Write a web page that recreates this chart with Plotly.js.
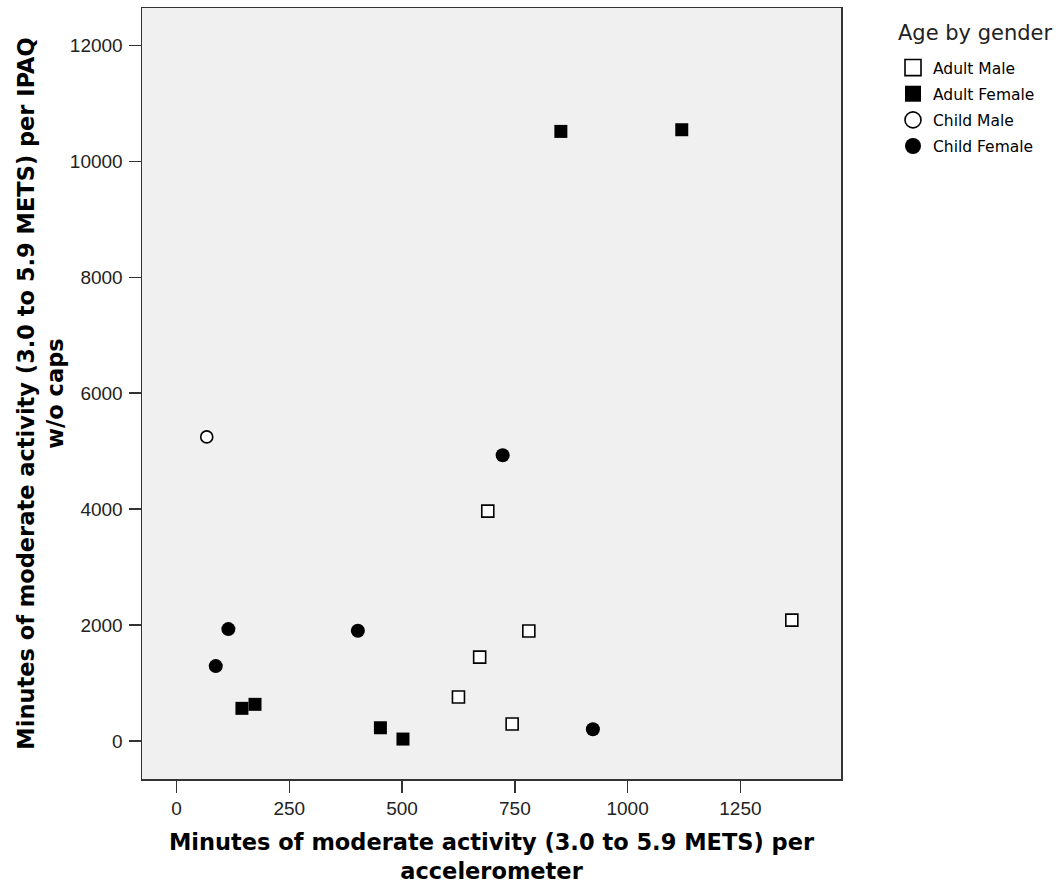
<!DOCTYPE html>
<html>
<head>
<meta charset="utf-8">
<script src="https://cdn.plot.ly/plotly-3.0.1.min.js"></script>
<style>html,body{margin:0;padding:0;background:#fff;}#chart{width:1061px;height:884px;}</style>
</head>
<body>
<div id="chart"></div>
<script>
// Data
const seriesNames = ["Adult Male", "Adult Female", "Child Male", "Child Female"];
const adultMaleX = [690, 781, 672, 625, 744, 1364];
const adultMaleY = [3966, 1897, 1448, 759, 293, 2086];
const adultFemaleX = [852, 1120, 145, 174, 452, 502];
const adultFemaleY = [10517, 10546, 564, 633, 229, 34];
const childMaleX = [67];
const childMaleY = [5247];
const childFemaleX = [723, 115, 87, 402, 923];
const childFemaleY = [4931, 1931, 1293, 1902, 202];
const xTicks = [0, 250, 500, 750, 1000, 1250];
const yTicks = [0, 2000, 4000, 6000, 8000, 10000, 12000];
const legendTitle = "Age by gender";

const FONT = "DejaVu Sans, Arial, sans-serif";
const TICKFONT = "Liberation Sans, Arial, sans-serif";

const styles = [
  {symbol: "square", color: "#ffffff", lw: 1.6, size: 12},
  {symbol: "square", color: "#000000", lw: 0, size: 13},
  {symbol: "circle", color: "#ffffff", lw: 1.6, size: 12},
  {symbol: "circle", color: "#000000", lw: 0, size: 14}
];
const xs = [adultMaleX, adultFemaleX, childMaleX, childFemaleX];
const ys = [adultMaleY, adultFemaleY, childMaleY, childFemaleY];

const data = [];
// plotted points
for (let i = 0; i < 4; i++) {
  const s = styles[i];
  data.push({
    type: "scatter", mode: "markers", name: seriesNames[i], x: xs[i], y: ys[i],
    showlegend: false, legendgroup: "g" + i,
    marker: {symbol: s.symbol, size: s.size, color: s.color, line: {color: "#000", width: s.lw}}
  });
}
// legend entries (larger symbols, as in the reference legend)
for (let i = 0; i < 4; i++) {
  const s = styles[i];
  data.push({
    type: "scatter", mode: "markers", name: seriesNames[i], x: [null], y: [null],
    showlegend: true, legendgroup: "g" + i,
    marker: {symbol: s.symbol, size: 16, color: s.color, line: {color: "#000", width: s.lw ? 1.6 : 0}}
  });
}

const layout = {
  width: 1061, height: 884,
  paper_bgcolor: "#ffffff", plot_bgcolor: "#f0f0f0",
  margin: {l: 142, r: 220, t: 8, b: 105},
  font: {family: FONT, color: "#000"},
  showlegend: true,
  xaxis: {
    range: [-76.5, 1473], tickvals: xTicks, ticktext: xTicks.map(String),
    showgrid: false, zeroline: false,
    showline: true, linecolor: "#333", linewidth: 1.5, mirror: true,
    ticks: "outside", ticklen: 12, tickwidth: 1.5, tickcolor: "#333",
    tickfont: {family: TICKFONT, size: 19, color: "#222"},
    title: {text: "Minutes of moderate activity (3.0 to 5.9 METS) per<br>accelerometer",
            font: {family: FONT, size: 22.5, color: "#000", weight: "bold"}},
    automargin: false
  },
  yaxis: {
    range: [-655, 12646], tickvals: yTicks, ticktext: yTicks.map(String),
    showgrid: false, zeroline: false,
    showline: true, linecolor: "#333", linewidth: 1.5, mirror: true,
    ticks: "outside", ticklen: 12, tickwidth: 1.5, tickcolor: "#333",
    ticklabelstandoff: 2,
    tickfont: {family: TICKFONT, size: 19, color: "#222"},
    title: {text: "Minutes of moderate activity (3.0 to 5.9 METS) per IPAQ<br>w/o caps",
            font: {family: FONT, size: 22.5, color: "#000", weight: "bold"}},
    automargin: false
  },
  legend: {
    x: 893 / 1061, xref: "container", y: 1 - 51 / 884, yref: "container", xanchor: "left", yanchor: "top",
    bgcolor: "rgba(0,0,0,0)", borderwidth: 0,
    font: {family: FONT, size: 15.5, color: "#000"},
    tracegroupgap: 3, traceorder: "grouped", itemsizing: "trace"
  },
  annotations: [{
    text: legendTitle, xref: "paper", yref: "paper",
    x: (896 - 142) / (1061 - 362), y: 1 - (33 - 8) / (884 - 113),
    xanchor: "left", yanchor: "middle", showarrow: false,
    font: {family: FONT, size: 21, color: "#222"}
  }]
};
Plotly.newPlot("chart", data, layout, {displayModeBar: false, staticPlot: true});
</script>
</body>
</html>
